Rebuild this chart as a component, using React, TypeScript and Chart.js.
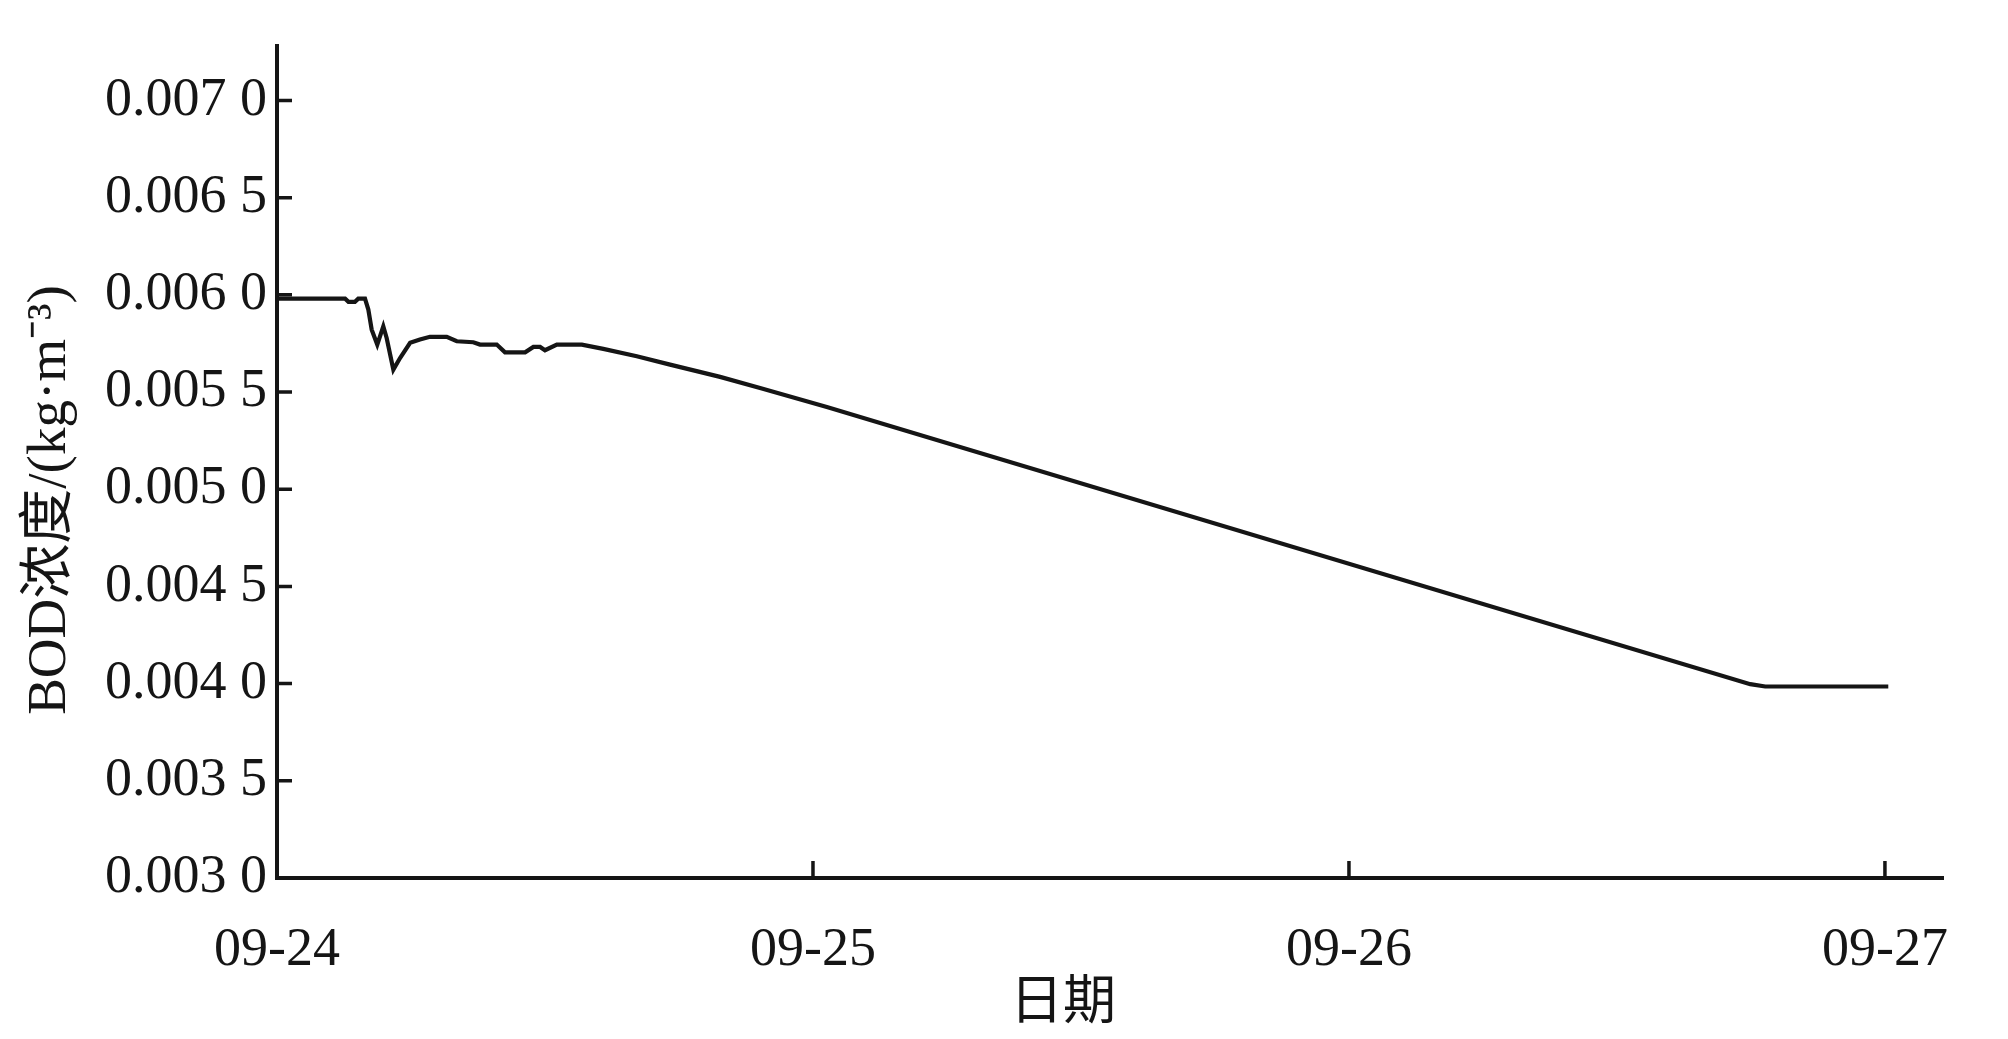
import React, { useEffect, useRef } from "react";
import { Chart, registerables } from "chart.js";

Chart.register(...registerables);

// x: hours since 09-24 00:00
const dayLabels = ["09-24", "09-25", "09-26", "09-27"];
const hours = [0, 3.05, 3.2, 3.49, 3.64, 3.94, 4.09, 4.24, 4.49, 4.76, 4.91, 5.21, 5.51, 5.96, 6.4, 6.85, 7.6, 8.05, 8.79, 9.09, 9.84, 10.21, 11.11, 11.48, 11.78, 12.0, 12.53, 13.65, 14.61, 16.11, 17.6, 19.84, 21.63, 24.62, 65.97, 66.64, 72.15];
const bod = [0.00598, 0.00598, 0.005964, 0.005964, 0.00598, 0.00598, 0.005924, 0.005821, 0.005744, 0.005838, 0.005778, 0.005615, 0.005675, 0.005753, 0.00577, 0.005784, 0.005784, 0.005761, 0.005756, 0.005744, 0.005744, 0.005704, 0.005704, 0.005732, 0.005732, 0.005715, 0.005744, 0.005744, 0.005722, 0.005684, 0.005641, 0.005578, 0.005521, 0.005423, 0.003997, 0.003985, 0.003985];
const xTitle = "日期";
const yTitle = "BOD浓度/(kg·m⁻³)";

const FONT = "'Liberation Serif', 'Times New Roman', 'Noto Sans CJK SC', serif";
const INK = "#151515";

const fmtY = (v: number) => {
  const s = Number(v).toFixed(4);
  return s.slice(0, -1) + " " + s.slice(-1);
};

const innerTicks = {
  id: "innerTicks",
  afterDraw(chart: any) {
    const ctx = chart.ctx;
    const xs = chart.scales.x;
    const ys = chart.scales.y;
    const area = chart.chartArea;
    ctx.save();
    ctx.strokeStyle = INK;
    ctx.lineWidth = 3.5;
    ctx.beginPath();
    xs.ticks.forEach((t: any) => {
      const px = xs.getPixelForValue(t.value);
      if (Math.abs(px - area.left) < 3) return;
      ctx.moveTo(px, area.bottom);
      ctx.lineTo(px, area.bottom - 17);
    });
    ys.ticks.forEach((t: any) => {
      const py = ys.getPixelForValue(t.value);
      if (Math.abs(py - area.bottom) < 3) return;
      ctx.moveTo(area.left, py);
      ctx.lineTo(area.left + 15, py);
    });
    ctx.stroke();

    ctx.fillStyle = INK;
    ctx.textAlign = "center";
    ctx.textBaseline = "middle";
    ctx.font = "53px " + FONT;
    ctx.fillText(xTitle, 1063, 1005);
    ctx.translate(51, 500);
    ctx.rotate(-Math.PI / 2);
    ctx.font = "55px " + FONT;
    ctx.fillText(yTitle, 0, 0);
    ctx.restore();
  },
};

export default function App() {
  const ref = useRef<HTMLCanvasElement | null>(null);
  useEffect(() => {
    if (!ref.current) return;
    const chart = new Chart(ref.current, {
      type: "line",
      data: {
        datasets: [
          {
            data: hours.map((h, i) => ({ x: h, y: bod[i] })),
            borderColor: INK,
            borderWidth: 4.2,
            pointRadius: 0,
            tension: 0,
            fill: false,
          },
        ],
      },
      options: {
        responsive: false,
        animation: false,
        layout: { padding: { top: 46, right: 65, left: 0, bottom: 0 } },
        plugins: { legend: { display: false }, tooltip: { enabled: false } },
        scales: {
          x: {
            type: "linear",
            min: 0,
            max: 74.6,
            grid: { display: false, drawTicks: false },
            border: { display: true, color: INK, width: 4 },
            ticks: {
              stepSize: 24,
              includeBounds: false,
              autoSkip: false,
              maxRotation: 0,
              padding: 40,
              color: INK,
              font: { family: FONT, size: 54 },
              callback: (v: any) => {
                const i = Math.round(Number(v) / 24);
                return dayLabels[i] ?? "";
              },
            },
            afterFit: (s: any) => {
              s.height = 161;
            },
          },
          y: {
            type: "linear",
            min: 0.003,
            max: 0.00728,
            grid: { display: false, drawTicks: false },
            border: { display: true, color: INK, width: 4 },
            ticks: {
              stepSize: 0.0005,
              includeBounds: false,
              padding: 10,
              color: INK,
              font: { family: FONT, size: 54 },
              callback: (v: any) => fmtY(Number(v)),
            },
            afterFit: (s: any) => {
              s.width = 277;
            },
          },
        },
      },
      plugins: [innerTicks],
    } as any);
    return () => chart.destroy();
  }, []);
  return (
    <div style={{ position: "absolute", left: 0, top: 0, width: 2008, height: 1039, background: "#fff" }}>
      <canvas ref={ref} width={2008} height={1039} />
    </div>
  );
}
